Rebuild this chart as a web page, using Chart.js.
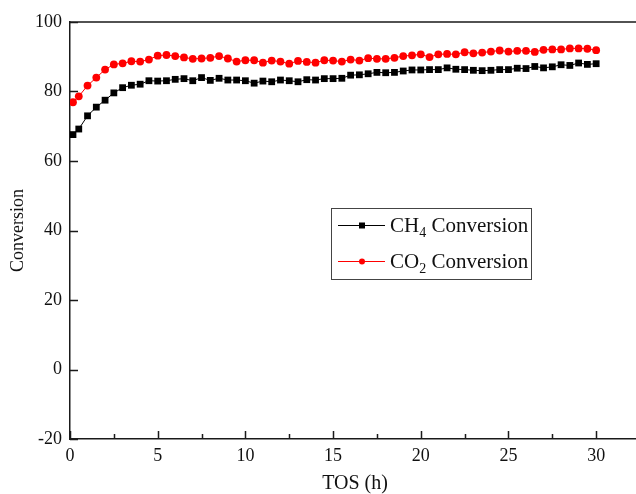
<!DOCTYPE html>
<html>
<head>
<meta charset="utf-8">
<script src="https://cdn.jsdelivr.net/npm/chart.js@4"></script>
<style>
  html, body { margin: 0; padding: 0; background: #fff; overflow: hidden; }
  #wrap { width: 660px; height: 494px; }
</style>
</head>
<body>
<div id="wrap"><canvas id="c" width="660" height="494"></canvas></div>
<script>
// Time on stream (h)
const hours = [0.17, 0.5, 1, 1.5, 2, 2.5, 3, 3.5, 4, 4.5, 5, 5.5, 6, 6.5, 7, 7.5, 8, 8.5, 9, 9.5,
  10, 10.5, 11, 11.5, 12, 12.5, 13, 13.5, 14, 14.5, 15, 15.5, 16, 16.5, 17, 17.5, 18, 18.5, 19, 19.5,
  20, 20.5, 21, 21.5, 22, 22.5, 23, 23.5, 24, 24.5, 25, 25.5, 26, 26.5, 27, 27.5, 28, 28.5, 29, 29.5, 30];

// CH4 conversion (%)
const ch4Conversion = [67.6, 69.2, 73.0, 75.5, 77.5, 79.6, 81.1, 81.8, 82.1, 83.1, 83.0, 83.1, 83.5, 83.7, 83.1, 84.0, 83.2, 83.8, 83.3, 83.3,
  83.1, 82.4, 83.0, 82.8, 83.3, 83.1, 82.8, 83.4, 83.3, 83.7, 83.7, 83.8, 84.7, 84.8, 85.1, 85.5, 85.4, 85.5, 85.9, 86.2,
  86.2, 86.3, 86.3, 86.8, 86.4, 86.3, 86.1, 86.0, 86.1, 86.3, 86.3, 86.7, 86.6, 87.2, 86.8, 87.1, 87.7, 87.5, 88.2, 87.8, 88.0];

// CO2 conversion (%)
const co2Conversion = [76.9, 78.6, 81.7, 84.0, 86.3, 87.8, 88.1, 88.7, 88.6, 89.2, 90.3, 90.5, 90.2, 89.8, 89.4, 89.5, 89.7, 90.2, 89.5, 88.6,
  89.0, 89.0, 88.3, 88.9, 88.6, 88.0, 88.8, 88.5, 88.3, 89.0, 88.9, 88.6, 89.2, 88.9, 89.6, 89.4, 89.4, 89.7, 90.2, 90.4,
  90.7, 89.9, 90.7, 90.8, 90.7, 91.3, 91.0, 91.2, 91.5, 91.8, 91.5, 91.7, 91.7, 91.4, 92.0, 92.1, 92.1, 92.4, 92.4, 92.3, 91.9];

const yTicks = [-20, 0, 20, 40, 60, 80, 100];
const xMajorTicks = [0, 5, 10, 15, 20, 25, 30];
const xMinorTicks = [2.5, 7.5, 12.5, 17.5, 22.5, 27.5];

const seriesNames = [['CH', '4', ' Conversion'], ['CO', '2', ' Conversion']];

const SERIF = '"Liberation Serif", "Times New Roman", serif';
const AXIS_COLOR = '#1a1a1a';

// Inward tick marks, top frame line and the boxed legend
const framePlugin = {
  id: 'frame',
  afterDatasetsDraw(chart) {
    const { ctx, chartArea: a, scales: { x, y } } = chart;
    ctx.save();
    ctx.strokeStyle = AXIS_COLOR;
    ctx.lineWidth = 1.5;
    ctx.beginPath();
    ctx.moveTo(a.left, a.top);
    ctx.lineTo(a.right + 2, a.top);
    xMajorTicks.forEach(v => {
      const px = Math.round(x.getPixelForValue(v)) + 0.5;
      ctx.moveTo(px, a.bottom);
      ctx.lineTo(px, a.bottom - 8);
    });
    xMinorTicks.forEach(v => {
      const px = Math.round(x.getPixelForValue(v)) + 0.5;
      ctx.moveTo(px, a.bottom);
      ctx.lineTo(px, a.bottom - 5);
    });
    yTicks.forEach(v => {
      const py = Math.round(y.getPixelForValue(v)) + 0.5;
      ctx.moveTo(a.left, py);
      ctx.lineTo(a.left + 8, py);
    });
    ctx.stroke();

    // legend box
    const lx = a.left + 261, ly = a.top + 186, lw = 200, lh = 71;
    ctx.lineWidth = 1;
    ctx.strokeStyle = '#444';
    ctx.strokeRect(lx + 0.5, ly + 0.5, lw, lh);

    chart.data.datasets.forEach((ds, i) => {
      const cy = ly + 17 + i * 36;
      ctx.strokeStyle = ds.borderColor;
      ctx.lineWidth = 1;
      ctx.beginPath();
      ctx.moveTo(lx + 7, cy + 0.5);
      ctx.lineTo(lx + 54, cy + 0.5);
      ctx.stroke();
      ctx.fillStyle = ds.backgroundColor;
      if (ds.pointStyle === 'rect') {
        ctx.fillRect(lx + 28, cy - 2.5, 6, 6);
      } else {
        ctx.beginPath();
        ctx.arc(lx + 31, cy + 0.5, 3, 0, Math.PI * 2);
        ctx.fill();
      }
      const [main, sub, rest] = seriesNames[i];
      let tx = lx + 59;
      const base = cy + 7;
      ctx.fillStyle = '#111';
      ctx.textBaseline = 'alphabetic';
      ctx.textAlign = 'left';
      ctx.font = '21px ' + SERIF;
      ctx.fillText(main, tx, base);
      tx += ctx.measureText(main).width;
      ctx.font = '14px ' + SERIF;
      ctx.fillText(sub, tx, base + 5);
      tx += ctx.measureText(sub).width;
      ctx.font = '21px ' + SERIF;
      ctx.fillText(rest, tx, base);
    });
    ctx.restore();
  }
};

new Chart(document.getElementById('c'), {
  type: 'line',
  data: {
    datasets: [
      {
        label: 'CH4 Conversion',
        data: hours.map((h, i) => ({ x: h, y: ch4Conversion[i] })),
        borderColor: '#000000',
        backgroundColor: '#000000',
        borderWidth: 1,
        pointStyle: 'rect',
        pointRadius: 4.8,
        pointBorderWidth: 0,
        pointBackgroundColor: '#000000',
        tension: 0
      },
      {
        label: 'CO2 Conversion',
        data: hours.map((h, i) => ({ x: h, y: co2Conversion[i] })),
        borderColor: '#ff0000',
        backgroundColor: '#ff0000',
        borderWidth: 1,
        pointStyle: 'circle',
        pointRadius: 3.9,
        pointBorderWidth: 0,
        pointBackgroundColor: '#ff0000',
        tension: 0
      }
    ]
  },
  options: {
    responsive: false,
    devicePixelRatio: 1,
    animation: false,
    layout: { padding: { top: 22, right: 20, left: 0, bottom: 0 } },
    plugins: { legend: { display: false }, tooltip: { enabled: false } },
    scales: {
      x: {
        type: 'linear',
        min: 0,
        max: 32.5,
        afterBuildTicks: s => { s.ticks = xMajorTicks.map(v => ({ value: v })); },
        afterFit: s => { s.height = 55; },
        grid: { display: false, drawTicks: false },
        border: { display: true, color: AXIS_COLOR, width: 1.5 },
        ticks: { color: '#111', padding: 6, maxRotation: 0, font: { family: SERIF, size: 18 } },
        title: { display: true, text: 'TOS (h)', color: '#111', padding: { top: 0, bottom: 0 },
                 font: { family: SERIF, size: 20, lineHeight: 1 } }
      },
      y: {
        min: -20,
        max: 100,
        afterBuildTicks: s => { s.ticks = yTicks.map(v => ({ value: v })); },
        afterFit: s => { s.width = 70; },
        grid: { display: false, drawTicks: false },
        border: { display: true, color: AXIS_COLOR, width: 1.5 },
        ticks: { color: '#111', padding: 8, font: { family: SERIF, size: 18 } },
        title: { display: true, text: 'Conversion', color: '#111', padding: { top: 9, bottom: 0 },
                 font: { family: SERIF, size: 18, lineHeight: 1 } }
      }
    }
  },
  plugins: [framePlugin]
});
</script>
</body>
</html>
